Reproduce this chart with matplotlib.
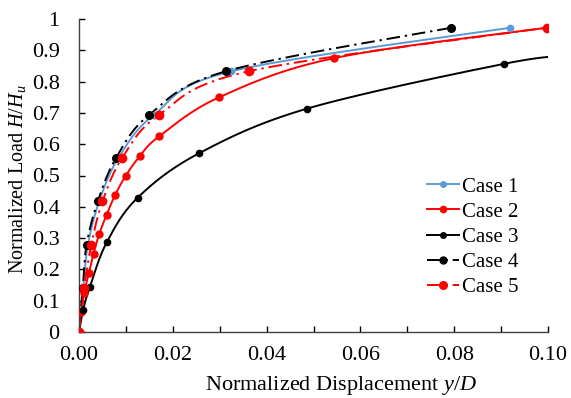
import numpy as np
import matplotlib
matplotlib.use("Agg")
import matplotlib.pyplot as plt

plt.rcParams['font.family'] = ['Liberation Serif', 'DejaVu Serif']
plt.rcParams['mathtext.fontset'] = 'custom'
plt.rcParams['mathtext.rm'] = 'Liberation Serif'
plt.rcParams['mathtext.it'] = 'Liberation Serif:italic'

# ---- data ----
case1_x = [0, 0.0009, 0.0019, 0.0043, 0.0084, 0.0160, 0.0325, 0.0919]
case1_y = [0, 0.139, 0.278, 0.417, 0.556, 0.694, 0.833, 0.972]

case2_x = [0, 0.0005, 0.0011, 0.0021, 0.0031, 0.0043, 0.0059, 0.0077, 0.0100,
           0.0130, 0.0171, 0.0299, 0.0544, 0.0997]
case2_y = [0, 0.0625, 0.125, 0.1875, 0.25, 0.3125, 0.375, 0.4375, 0.5,
           0.5625, 0.625, 0.75, 0.875, 0.972]

case3_x = [0, 0.0009, 0.0023, 0.0059, 0.0125, 0.0256, 0.0487, 0.0907, 0.1050]
case3_y = [0, 0.0714, 0.143, 0.286, 0.429, 0.571, 0.714, 0.857, 0.884]

case4_x = [0, 0.0008, 0.0016, 0.0040, 0.0079, 0.0150, 0.0313, 0.0793]
case4_y = [0, 0.139, 0.278, 0.417, 0.556, 0.694, 0.833, 0.972]

case5_x = [0, 0.0011, 0.0026, 0.0050, 0.0092, 0.0171, 0.0362, 0.0997]
case5_y = [0, 0.139, 0.278, 0.417, 0.556, 0.694, 0.833, 0.972]

labels = ['Case 1', 'Case 2', 'Case 3', 'Case 4', 'Case 5']

x_ticklabels = ['0.00', '0.02', '0.04', '0.06', '0.08', '0.10']
y_ticklabels = ['0', '0.1', '0.2', '0.3', '0.4', '0.5', '0.6', '0.7', '0.8', '0.9', '1']

XMAX, YMAX = 0.1, 1.0
AX_W, AX_H = 469.0, 313.0


def smooth(xs, ys, n=30):
    """Excel-like Catmull-Rom smoothing computed in screen-proportional space."""
    X = np.asarray(xs) / XMAX * AX_W
    Y = np.asarray(ys) / YMAX * AX_H
    P = np.column_stack([X, Y])
    P = np.vstack([P[0], P, P[-1]])
    out = []
    t = np.linspace(0, 1, n)
    for i in range(1, len(P) - 2):
        p0, p1, p2, p3 = P[i - 1], P[i], P[i + 1], P[i + 2]
        c1 = p1 + (p2 - p0) / 6.0
        c2 = p2 - (p3 - p1) / 6.0
        b = ((1 - t) ** 3)[:, None] * p1 + (3 * (1 - t) ** 2 * t)[:, None] * c1 \
            + (3 * (1 - t) * t ** 2)[:, None] * c2 + (t ** 3)[:, None] * p2
        out.append(b if i == 1 else b[1:])
    B = np.vstack(out)
    return B[:, 0] / AX_W * XMAX, B[:, 1] / AX_H * YMAX


fig = plt.figure(figsize=(5.71, 3.98), dpi=100)
ax = fig.add_axes([79 / 571, 1 - 332 / 398, 469 / 571, 313 / 398])

blue = '#5B9BD5'
red = '#FF0000'
dashdot = (0, (7, 2.5, 1.2, 2.5))

series = [
    (case1_x, case1_y, blue, '-', 4.5),
    (case2_x, case2_y, red, '-', 5.0),
    (case3_x, case3_y, 'black', '-', 4.5),
    (case4_x, case4_y, 'black', dashdot, 5.5),
    (case5_x, case5_y, red, dashdot, 6.0),
]

handles = []
for (xs, ys, col, ls, ms), lab in zip(series, labels):
    sx, sy = smooth(xs, ys)
    ax.plot(sx, sy, color=col, linestyle=ls, linewidth=1.4, zorder=2)
    ax.plot(xs, ys, linestyle='none', marker='o', markersize=ms, color=col, zorder=3)
    h, = ax.plot([], [], color=col, linestyle=ls, linewidth=1.4, marker='o',
                 markersize=ms - 0.5, label=lab)
    handles.append(h)

ax.set_xlim(0, XMAX)
ax.set_ylim(0, YMAX)

ax.set_xticks(np.arange(0, 0.1001, 0.01))
ax.set_xticklabels([x_ticklabels[i // 2] if i % 2 == 0 else '' for i in range(11)])
ax.set_yticks(np.arange(0, 1.0001, 0.1))
ax.set_yticklabels(y_ticklabels)

ax.tick_params(direction='in', length=4, width=1, labelsize=16, colors='black')
ax.tick_params(axis='x', pad=10)
ax.tick_params(axis='y', pad=14)

for s in ['top', 'right']:
    ax.spines[s].set_visible(False)
for s in ['left', 'bottom']:
    ax.spines[s].set_linewidth(1.0)
    ax.spines[s].set_color('#404040')

ax.set_xlabel(r'Normalized Displacement $y/D$', fontsize=16)
ax.xaxis.set_label_coords(0.558, -0.135)
ax.set_ylabel(r'Normalized Load $H/H_u$', fontsize=14.5)
ax.yaxis.set_label_coords(-0.108, 0.489)

ax.legend(handles=handles, loc='upper left', bbox_to_anchor=(0.725, 0.522),
          frameon=False, fontsize=15, handlelength=1.5, handletextpad=0.15,
          labelspacing=0.27, borderaxespad=0)

fig.savefig('out.png', dpi=100)
